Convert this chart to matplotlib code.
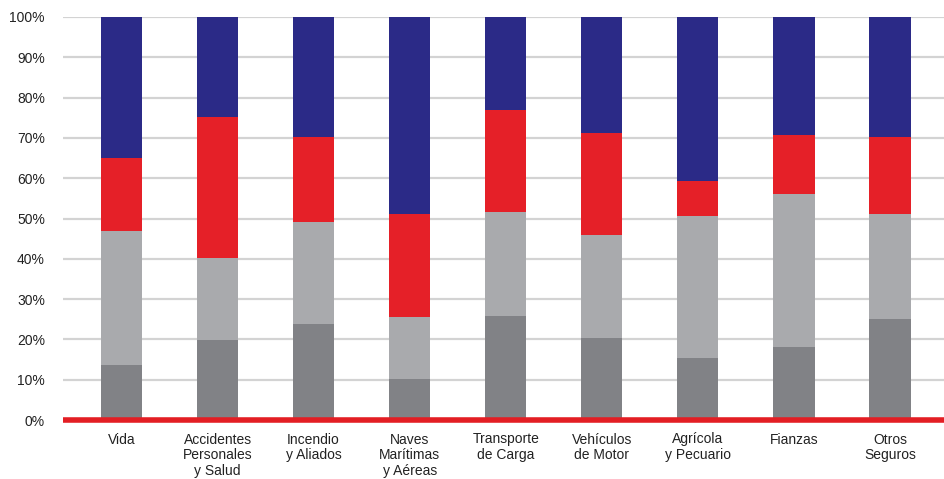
import numpy as np
import matplotlib
matplotlib.use("Agg")
import matplotlib.pyplot as plt

plt.rcParams['font.family'] = ['Liberation Sans', 'DejaVu Sans']

categories = ["Vida", "Accidentes\nPersonales\ny Salud", "Incendio\ny Aliados",
              "Naves\nMarítimas\ny Aéreas", "Transporte\nde Carga", "Vehículos\nde Motor",
              "Agrícola\ny Pecuario", "Fianzas", "Otros\nSeguros"]

# cumulative tops (%)
dark_top = [13.7, 19.9, 23.7, 10.2, 25.9, 20.4, 15.5, 18.0, 25.1]
light_top = [46.9, 40.2, 49.1, 25.6, 51.6, 45.9, 50.6, 56.1, 51.1]
red_top = [65.0, 75.3, 70.2, 51.1, 76.8, 71.1, 59.3, 70.7, 70.2]

dark = np.array(dark_top)
light = np.array(light_top) - dark
red = np.array(red_top) - np.array(light_top)
navy = 100 - np.array(red_top)

c_dark = "#818286"
c_light = "#a9aaad"
c_red = "#e52028"
c_navy = "#2b2a87"

fig = plt.figure(figsize=(9.45, 4.79), dpi=100)
ax = fig.add_axes([63 / 945, 59 / 479, 1 - 63 / 945, 403 / 479])

x = np.arange(len(categories))
w = 0.43
ax.bar(x, dark, w, color=c_dark, zorder=2)
ax.bar(x, light, w, bottom=dark, color=c_light, zorder=2)
ax.bar(x, red, w, bottom=dark + light, color=c_red, zorder=2)
ax.bar(x, navy, w, bottom=dark + light + red, color=c_navy, zorder=2)

ax.set_xlim(-0.609, 8.573)
ax.set_ylim(0, 100)
ax.set_yticks(range(0, 101, 10))
ax.set_yticklabels([f"{v}%" for v in range(0, 101, 10)], fontsize=10, color="#222222")
ax.yaxis.grid(True, color="#d3d3d3", linewidth=1.6, zorder=0)
ax.set_axisbelow(True)
ax.axhline(0, color="#e31e24", linewidth=4, zorder=3, clip_on=False,
           solid_capstyle="butt")

ax.set_xticks(x)
ax.set_xticklabels(categories, fontsize=10, color="#222222", linespacing=1.15)
ax.tick_params(axis="both", length=0)
ax.tick_params(axis="x", pad=9)
ax.tick_params(axis="y", pad=13)
for s in ax.spines.values():
    s.set_visible(False)

fig.savefig("out.png", dpi=100)
